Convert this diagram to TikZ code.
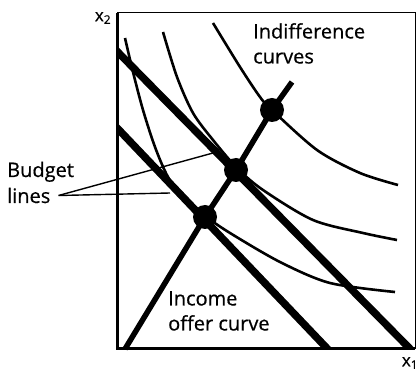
\documentclass[tikz,border=0pt]{standalone}
\usepackage{fontspec}
\setmainfont{Open Sans}[FakeBold=0.6]
\usetikzlibrary{positioning}

\tikzset{
  axis/.style={line width=3pt},
  frame/.style={line width=1pt},
  budgetline/.style={line width=7.5pt},
  offer/.style={line width=5.5pt},
  indiff/.style={line width=2.6pt, smooth},
  pointer/.style={line width=1.4pt},
  dot/.style={circle, fill=black, inner sep=0pt, minimum size=24pt},
  lbl/.style={font=\fontsize{20}{25}\selectfont, inner sep=0pt, align=left},
  axlbl/.style={font=\fontsize{17}{20}\selectfont, inner sep=0pt},
}

\begin{document}
\begin{tikzpicture}[x=1pt, y=-1pt]
  \useasboundingbox (0,0) rectangle (418,371);
  % frame and axes
  \draw[frame] (117,13) -- (415,13) -- (415,349);
  \draw[axis] (117,13) -- (117,349) -- (415,349);
  \node[axlbl] (xtwo) at (103,18) {x\textsubscript{2}};
  \node[axlbl] (xone) at (410,363) {x\textsubscript{1}};
  % indifference curves
  \draw[indiff] plot coordinates {(125,38) (133,72) (143,110) (155,147) (168,177) (185,200) (205,216) (230,233) (280,262) (330,283) (395,292)};
  \draw[indiff] plot coordinates {(163,32) (177,77) (193,113) (213,140) (237,168) (263,190) (313,220) (363,233) (397,240)};
  \draw[indiff] plot coordinates {(213,23) (240,67) (260,97) (272,110) (317,150) (360,173) (398,185)};
  % budget lines
  \coordinate (bin0) at (100,110);
  \coordinate (bin1) at (340,362);
  \coordinate (bout0) at (100,34);
  \coordinate (bout1) at (422,361);
  \begin{scope}
    \clip (117,13) rectangle (415,349);
    \draw[budgetline] (bin0) -- (bin1);
    \draw[budgetline] (bout0) -- (bout1);
  \end{scope}
  % optimal choices
  \node[dot] (e1) at (205,217) {};
  \node[dot] (e2) at (236,170) {};
  \node[dot] (e3) at (272,110) {};
  \coordinate (o) at (125,349);
  \coordinate (oend) at (292,82);
  \draw[offer] (o) -- (e1.center) -- (e2.center) -- (e3.center) -- (oend);
  % labels
  \node[lbl, anchor=north west] (indiff) at (253,23) {Indifference\\curves};
  \node[lbl, anchor=north west] (income) at (168,291) {Income\\offer curve};
  \node[lbl, anchor=base west] (budget) at (7,177) {Budget};
  \node[lbl, anchor=base west] (lines) at (7,203) {lines};
  \coordinate (p1) at (213,153);
  \coordinate (p2) at (170,193);
  \draw[pointer] ([xshift=8pt]lines.east) -- (p1);
  \draw[pointer] ([xshift=8pt]lines.east) -- (p2);
\end{tikzpicture}
\end{document}
